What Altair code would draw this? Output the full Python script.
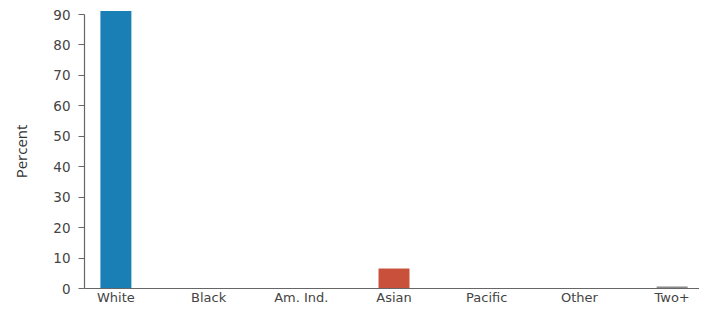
import altair as alt
import pandas as pd

# Data
categories = ["White", "Black", "Am. Ind.", "Asian", "Pacific", "Other", "Two+"]
percent = [91.0, 0.0, 0.0, 6.4, 0.0, 0.0, 0.5]
y_ticks = [0, 10, 20, 30, 40, 50, 60, 70, 80, 90]

# Style (not data)
bar_colors = ["#1a7fb5", "#888888", "#888888", "#c9503a", "#888888", "#888888", "#8c8c8c"]

df = pd.DataFrame({"group": categories, "pct": percent})

chart = (
    alt.Chart(df)
    .mark_bar()
    .encode(
        x=alt.X(
            "group:N",
            sort=categories,
            title=None,
            scale=alt.Scale(paddingInner=0.666, paddingOuter=0.15, align=0.59),
            axis=alt.Axis(
                labelAngle=0,
                ticks=False,
                labelPadding=3,
                labelFont="DejaVu Sans",
                labelFontSize=13,
                labelColor="#444444",
                domainColor="#666666",
                domainWidth=1.2,
                grid=False,
            ),
        ),
        y=alt.Y(
            "pct:Q",
            title="Percent",
            scale=alt.Scale(domain=[0, 90], nice=False),
            axis=alt.Axis(
                values=y_ticks,
                tickSize=6,
                tickColor="#666666",
                labelPadding=8,
                labelOffset=1,
                labelFont="DejaVu Sans",
                labelFontSize=13.5,
                labelColor="#444444",
                domainColor="#666666",
                domainWidth=1.2,
                grid=False,
                titleFont="Open Sans",
                titleFontSize=15,
                titleFontWeight="normal",
                titleColor="#333333",
                titlePadding=23,
            ),
        ),
        color=alt.Color(
            "group:N",
            scale=alt.Scale(domain=categories, range=bar_colors),
            legend=None,
        ),
    )
    .properties(
        width=615,
        height=274,
        background="white",
        autosize=alt.AutoSizeParams(type="none"),
        padding={"left": 76, "top": 6, "right": 0, "bottom": 16},
    )
    .configure_view(strokeWidth=0)
)

chart.save("out.html", embed_options={"renderer": "svg", "actions": False})
